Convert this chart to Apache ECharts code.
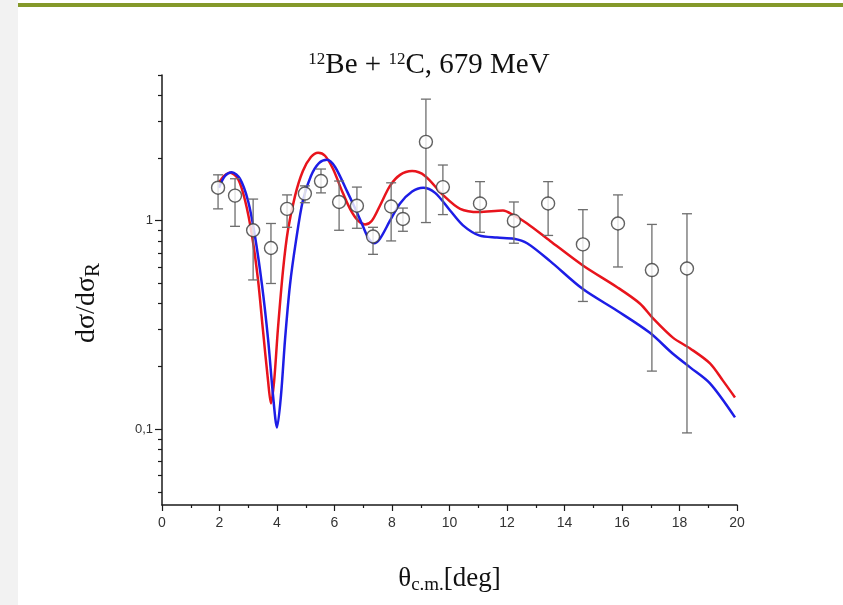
<!DOCTYPE html>
<html><head><meta charset="utf-8">
<script src="https://cdn.jsdelivr.net/npm/echarts@6/dist/echarts.min.js"></script>
<style>html,body{margin:0;padding:0;background:#fff}#c{width:843px;height:605px}</style>
</head><body><div id="c"></div>
<script>
// Experimental data (theta c.m. in deg, dσ/dσR and error bar limits)
const theta = [1.95,2.54,3.17,3.79,4.35,4.97,5.53,6.16,6.78,7.34,7.97,8.38,9.18,9.77,11.06,12.24,13.43,14.64,15.86,17.04,18.26];
const sigma = [1.44,1.32,0.90,0.74,1.14,1.35,1.55,1.23,1.18,0.84,1.17,1.02,2.39,1.45,1.21,1.00,1.21,0.77,0.97,0.58,0.59];
const errHi = [1.66,1.59,1.27,0.97,1.33,1.47,1.77,1.55,1.45,0.93,1.52,1.15,3.83,1.85,1.54,1.23,1.54,1.13,1.33,0.96,1.08];
const errLo = [1.14,0.94,0.52,0.50,0.93,1.22,1.36,0.90,0.92,0.69,0.80,0.89,0.98,1.07,0.88,0.78,0.85,0.41,0.60,0.19,0.096];

// Red calculated curve
const redX = [1.98,2.16,2.37,2.64,2.89,3.13,3.34,3.51,3.69,3.79,3.90,4.03,4.21,4.38,4.63,4.90,5.18,5.43,5.67,5.95,6.26,6.54,6.82,7.06,7.30,7.58,7.93,8.28,8.70,9.15,9.77,10.37,11.03,11.86,12.24,12.70,13.50,14.64,15.83,16.63,17.08,17.77,18.37,19.06,19.51,19.93];
const redY = [1.52,1.64,1.70,1.59,1.25,0.85,0.52,0.30,0.17,0.133,0.17,0.30,0.58,0.90,1.32,1.73,2.02,2.12,2.05,1.77,1.39,1.14,1.00,0.96,1.00,1.18,1.47,1.66,1.73,1.64,1.33,1.14,1.10,1.12,1.06,0.97,0.80,0.61,0.48,0.40,0.34,0.275,0.244,0.207,0.171,0.142];

// Blue calculated curve
const blueX = [1.98,2.19,2.43,2.71,2.99,3.23,3.48,3.69,3.86,4.00,4.14,4.28,4.45,4.66,4.90,5.18,5.46,5.74,6.02,6.43,6.75,6.99,7.17,7.37,7.58,7.93,8.28,8.70,9.08,9.50,10.02,10.47,11.03,11.65,12.24,12.70,13.50,14.64,15.83,16.97,17.77,18.37,19.06,19.93];
const blueY = [1.44,1.64,1.71,1.59,1.25,0.85,0.49,0.27,0.146,0.102,0.146,0.27,0.49,0.80,1.25,1.64,1.89,1.96,1.81,1.39,1.12,0.94,0.83,0.78,0.82,1.00,1.21,1.38,1.44,1.36,1.12,0.95,0.85,0.83,0.82,0.78,0.64,0.47,0.37,0.29,0.23,0.198,0.166,0.114];

const xTicks = [0,2,4,6,8,10,12,14,16,18,20];
const yLabels = [0.1, 1];
const yMinor = [0.05,0.06,0.07,0.08,0.09,0.2,0.3,0.4,0.5,0.6,0.7,0.8,0.9,2,3,4,5];

const zip = (a,b) => a.map((v,i)=>[v,b[i]]);
const chart = echarts.init(document.getElementById('c'), null, {renderer:'canvas'});
const YMIN = 0.0433, YMAX = 5;
const axisColor = '#1a1a1a';
const serif = '"Liberation Serif","DejaVu Serif",serif';
const sans = '"Liberation Sans",Arial,sans-serif';

chart.setOption({
  animation:false,
  backgroundColor:'#fff',
  title:{
    text:'{sup|12}Be + {sup|12}C, 679 MeV',
    left:424, top:46, textAlign:'center',
    textStyle:{fontFamily:serif,fontSize:29,fontWeight:'normal',color:'#111',
      rich:{sup:{fontFamily:serif,fontSize:17,color:'#111',verticalAlign:'top',lineHeight:17,padding:[0,0,12,0]}}}
  },
  graphic:[
    {type:'rect',shape:{x:0,y:0,width:18,height:605},style:{fill:'#f2f2f2'},silent:true},
    {type:'line',shape:{x1:18,y1:5,x2:843,y2:5},style:{stroke:'#85992a',lineWidth:4},silent:true}
  ],
  grid:{left:162,right:106,top:75,bottom:100,containLabel:false},
  xAxis:{
    type:'value',min:0,max:20,interval:2,
    name:'{t|θ}{s|c.m.}{t|[deg]}',nameLocation:'middle',nameGap:58,
    nameTextStyle:{rich:{t:{fontFamily:serif,fontSize:27,color:'#111'},s:{fontFamily:serif,fontSize:19,color:'#111',padding:[13,0,0,0]}}},
    axisLine:{lineStyle:{color:axisColor,width:1.5}},
    axisTick:{show:true,length:6,lineStyle:{color:axisColor,width:1.2}},
    minorTick:{show:true,splitNumber:2,length:3,lineStyle:{color:axisColor,width:1.2}},
    axisLabel:{fontFamily:sans,fontSize:14,color:'#333',margin:11},
    splitLine:{show:false}
  },
  yAxis:[{
    type:'log',logBase:10,min:YMIN,max:YMAX,position:'left',
    name:'{t|dσ/dσ}{s|R}',nameLocation:'middle',nameGap:58,nameRotate:90,
    nameTextStyle:{padding:[0,26,0,0],rich:{t:{fontFamily:serif,fontSize:28,color:'#111'},s:{fontFamily:serif,fontSize:21,color:'#111',padding:[13,0,0,0]}}},
    axisLine:{show:true,lineStyle:{color:axisColor,width:1.5}},
    axisTick:{show:true,length:7,customValues:yLabels,lineStyle:{color:axisColor,width:1.2}},
    axisLabel:{fontFamily:sans,fontSize:13,color:'#333',margin:9,customValues:yLabels,
      formatter:v=>String(v).replace('.',',')},
    splitLine:{show:false}
  },{
    type:'log',logBase:10,min:YMIN,max:YMAX,position:'left',offset:0,
    axisLine:{show:false},
    axisTick:{show:true,length:4,customValues:yMinor,lineStyle:{color:axisColor,width:1.2}},
    axisLabel:{show:false},
    splitLine:{show:false}
  }],
  series:[
    {type:'line',name:'red',data:zip(redX,redY),showSymbol:false,smooth:0.3,
      lineStyle:{color:'#e8141c',width:2.5},z:3},
    {type:'line',name:'blue',data:zip(blueX,blueY),showSymbol:false,smooth:0.3,
      lineStyle:{color:'#1d1de6',width:2.5},z:3},
    {type:'custom',name:'err',data:theta.map((t,i)=>[t,errLo[i],errHi[i]]),z:4,
      renderItem:(params,api)=>{
        const x=api.value(0);
        const pHi=api.coord([x,api.value(2)]);
        const pLo=api.coord([x,api.value(1)]);
        const w=5;
        const st={stroke:'#6e6e6e',lineWidth:1.3};
        return {type:'group',children:[
          {type:'line',shape:{x1:pHi[0],y1:pHi[1],x2:pLo[0],y2:pLo[1]},style:st},
          {type:'line',shape:{x1:pHi[0]-w,y1:pHi[1],x2:pHi[0]+w,y2:pHi[1]},style:st},
          {type:'line',shape:{x1:pLo[0]-w,y1:pLo[1],x2:pLo[0]+w,y2:pLo[1]},style:st}
        ]};
      }},
    {type:'scatter',name:'data',data:zip(theta,sigma),symbol:'circle',symbolSize:13,z:5,
      itemStyle:{color:'#fff',borderColor:'#3a3a3a',borderWidth:1.4}}
  ]
});
</script></body></html>
